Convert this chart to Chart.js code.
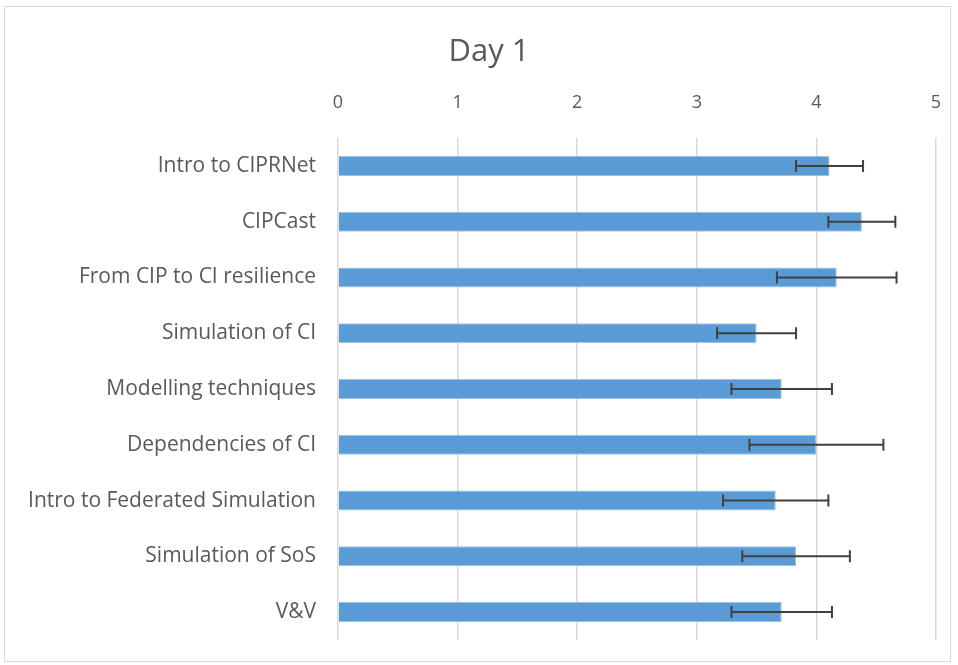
<!DOCTYPE html>
<html>
<head>
<meta charset="utf-8">
<script src="https://cdn.jsdelivr.net/npm/chart.js@4"></script>
<style>
  body { margin: 0; background: #fff; }
  #wrap { position: relative; width: 958px; height: 665px; }
</style>
</head>
<body>
<div id="wrap"><canvas id="myChart" width="958" height="665"></canvas></div>
<script>
// data
const categories = [
  "Intro to CIPRNet",
  "CIPCast",
  "From CIP to CI resilience",
  "Simulation of CI",
  "Modelling techniques",
  "Dependencies of CI",
  "Intro to Federated Simulation",
  "Simulation of SoS",
  "V&V"
];
const means = [4.11, 4.38, 4.17, 3.50, 3.71, 4.00, 3.66, 3.83, 3.71];
const errors = [0.28, 0.28, 0.50, 0.33, 0.42, 0.56, 0.44, 0.45, 0.42];
const xTicks = [0, 1, 2, 3, 4, 5];
const chartTitle = 'Day 1';

const textColor = '#595959';
const fontFamily = "'Open Sans', 'DejaVu Sans', sans-serif";

// frame + title (title is offset from the plot, like the original)
const framePlugin = {
  id: 'frame',
  beforeDraw(chart) {
    const ctx = chart.ctx;
    ctx.save();
    ctx.fillStyle = '#fff';
    ctx.fillRect(0, 0, chart.width, chart.height);
    ctx.strokeStyle = '#d9d9d9';
    ctx.lineWidth = 1;
    ctx.strokeRect(4.5, 6.5, 946, 655);
    ctx.fillStyle = textColor;
    ctx.font = '31px ' + fontFamily;
    ctx.textAlign = 'center';
    ctx.textBaseline = 'middle';
    ctx.fillText(chartTitle, 489, 52);
    ctx.restore();
  }
};

// error bars drawn via the scales
const errorBarPlugin = {
  id: 'errorBars',
  afterDatasetsDraw(chart) {
    const ctx = chart.ctx;
    const xs = chart.scales.x;
    const meta = chart.getDatasetMeta(0);
    ctx.save();
    ctx.strokeStyle = '#404040';
    ctx.lineWidth = 2;
    meta.data.forEach((bar, i) => {
      const y = bar.y;
      const x0 = xs.getPixelForValue(means[i] - errors[i]);
      const x1 = xs.getPixelForValue(means[i] + errors[i]);
      ctx.beginPath();
      ctx.moveTo(x0, y); ctx.lineTo(x1, y);
      ctx.moveTo(x0, y - 6); ctx.lineTo(x0, y + 6);
      ctx.moveTo(x1, y - 6); ctx.lineTo(x1, y + 6);
      ctx.stroke();
    });
    ctx.restore();
  }
};

const data = {
  labels: categories,
  datasets: [{
    label: chartTitle,
    data: means,
    backgroundColor: '#5b9bd5',
    borderColor: '#9cc3e5',
    borderWidth: 1,
    barPercentage: 0.72,
    categoryPercentage: 0.5
  }]
};

const options = {
  indexAxis: 'y',
  responsive: false,
  animation: false,
  layout: { padding: { left: 0, right: 22, top: 92, bottom: 25 } },
  plugins: {
    legend: { display: false },
    tooltip: { enabled: false },
    title: { display: false }
  },
  scales: {
    x: {
      position: 'top',
      min: 0,
      max: 5,
      afterBuildTicks(scale) {
        scale.ticks = xTicks.map(v => ({ value: v }));
      },
      afterFit(scale) {
        scale.height = 46;
        scale.paddingLeft = 0;
        scale.paddingRight = 0;
      },
      ticks: {
        color: textColor,
        font: { family: fontFamily, size: 18 },
        padding: 24
      },
      grid: { color: '#d9d9d9', lineWidth: 1.5, drawTicks: false },
      border: { display: false }
    },
    y: {
      afterFit(scale) {
        scale.width = 338;
        scale.paddingTop = 0;
        scale.paddingBottom = 0;
      },
      ticks: {
        color: textColor,
        font: { family: fontFamily, size: 21 },
        padding: 22
      },
      grid: { display: false, drawTicks: false },
      border: { display: false }
    }
  }
};

const config = {
  type: 'bar',
  data,
  options,
  plugins: [framePlugin, errorBarPlugin]
};

const myChart = new Chart(document.getElementById('myChart'), config);
</script>
</body>
</html>
